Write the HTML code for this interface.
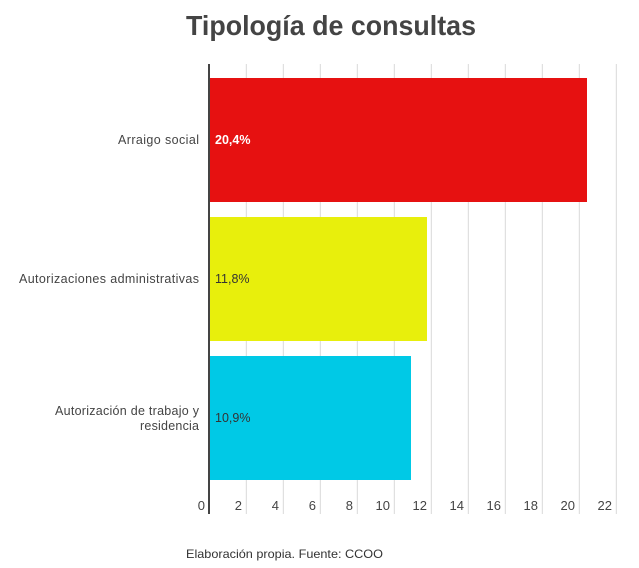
<!DOCTYPE html>
<html><head><meta charset="utf-8"><style>
html,body{margin:0;padding:0;background:#fff;}
svg{display:block;font-family:"Liberation Sans",sans-serif;}
</style></head><body>
<svg width="639" height="568" viewBox="0 0 639 568" xmlns="http://www.w3.org/2000/svg">
<text x="331" y="35" text-anchor="middle" font-size="28" font-weight="bold" fill="#444" textLength="290" lengthAdjust="spacingAndGlyphs">Tipología de consultas</text>
<g stroke="#d9d9d9" stroke-width="1">
<line x1="246.3" y1="64" x2="246.3" y2="514"/>
<line x1="283.3" y1="64" x2="283.3" y2="514"/>
<line x1="320.3" y1="64" x2="320.3" y2="514"/>
<line x1="357.3" y1="64" x2="357.3" y2="514"/>
<line x1="394.3" y1="64" x2="394.3" y2="514"/>
<line x1="431.3" y1="64" x2="431.3" y2="514"/>
<line x1="468.3" y1="64" x2="468.3" y2="514"/>
<line x1="505.3" y1="64" x2="505.3" y2="514"/>
<line x1="542.3" y1="64" x2="542.3" y2="514"/>
<line x1="579.3" y1="64" x2="579.3" y2="514"/>
<line x1="616.3" y1="64" x2="616.3" y2="514"/>
</g>
<rect x="209" y="78" width="378" height="124" fill="#e61111"/>
<rect x="209" y="217" width="218" height="124" fill="#e8ef0c"/>
<rect x="209" y="356" width="202" height="124" fill="#00c9e6"/>
<line x1="209" y1="64" x2="209" y2="514" stroke="#444" stroke-width="2"/>
<g font-size="12.5" fill="#333">
<text x="215" y="144" fill="#fff" font-weight="bold">20,4%</text>
<text x="215" y="283">11,8%</text>
<text x="215" y="422">10,9%</text>
</g>
<g font-size="12.5" fill="#444" text-anchor="end" lengthAdjust="spacingAndGlyphs">
<text x="199" y="144" textLength="81">Arraigo social</text>
<text x="199" y="283" textLength="180">Autorizaciones administrativas</text>
<text x="199" y="415" textLength="144">Autorización de trabajo y</text>
<text x="199" y="430" textLength="59">residencia</text>
</g>
<g font-size="13" fill="#444" text-anchor="end">
<text x="205" y="510">0</text>
<text x="242" y="510">2</text>
<text x="279" y="510">4</text>
<text x="316" y="510">6</text>
<text x="353" y="510">8</text>
<text x="390" y="510">10</text>
<text x="427" y="510">12</text>
<text x="464" y="510">14</text>
<text x="501" y="510">16</text>
<text x="538" y="510">18</text>
<text x="575" y="510">20</text>
<text x="612" y="510">22</text>
</g>
<text x="186" y="558" font-size="12" fill="#333" textLength="197" lengthAdjust="spacingAndGlyphs">Elaboración propia. Fuente: CCOO</text>
</svg>
</body></html>
